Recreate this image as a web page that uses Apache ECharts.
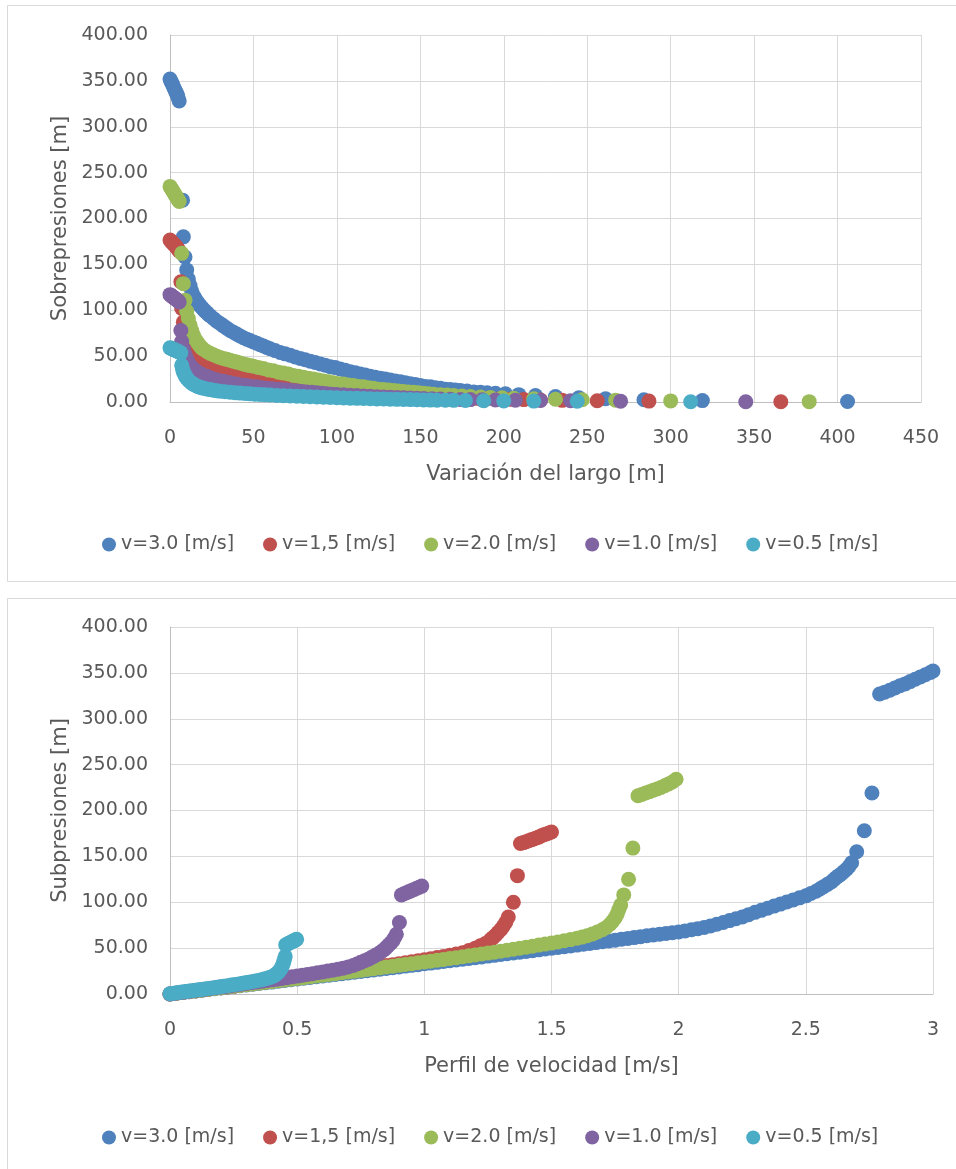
<!DOCTYPE html>
<html>
<head>
<meta charset="utf-8">
<script src="https://cdn.jsdelivr.net/npm/echarts@6/dist/echarts.min.js"></script>
<style>
  html, body { margin: 0; padding: 0; background: #ffffff; }
  #chart { width: 956px; height: 1169px; }
</style>
</head>
<body>
<div id="chart"></div>
<script>
// ---------- DATA ----------
const seriesNames = ['v=3.0 [m/s]', 'v=1,5 [m/s]', 'v=2.0 [m/s]', 'v=1.0 [m/s]', 'v=0.5 [m/s]'];
const seriesColors = ['#4F81BD', '#C0504D', '#9BBB59', '#8064A2', '#4BACC6'];

// Chart 1: [Variación del largo (m), Sobrepresiones (m)]
const sobreV30 = [[0,352],[0.5,350],[1,348],[1.5,346],[2,344],[2.5,342],[3,340],[3.5,338],[4,336],[4.5,334],[5,331],[5.5,328],[7.5,220],[8,180],[9,158],[10,144],
[11,134],[12,127],[13,121],[14,116],[15,113],[16,110],[17,107.5],[18,105],[19,103],[20,101],[21,99],[22,97.5],[23,95.5],[24,94],[26,91],[28,88],[30,85.5],[32,83],[34,80.5],[36,78],[38,76],[40,74],[42,72],[44,70],[46,68.5],[48,67],[50,65.5],[52,64],[54,62.5],[56,61],[58,59.5],[60,58],[63,56],[66,54],[69,52.5],[72,51],[75,49],[78,47.5],[81,46],[84,44.5],[87,43],[90,41.5],[93,40],[96,38.5],[99,37.5],[102,36],[105,34.5],[108,33],[111,32],[114,30.5],[117,29.5],[120,28],[123,27],[126,26],[129,25],[132,24],[135,23],[138,22],[141,21],[144,20],[147,19],[150,18],[153,17],[156,16.5],[159,15.5],[162,15],[165,14],[168,13.5],[171,13],[174,12.5],[178,12],[182,11],[186,10.5],[190,10],[195,9.5],[201,9],[209,8],[219,7],[231,6],[245,4.5],[261,3.5],[284,2.5],[319,1.5],[406,0.5]];
const sobreV15 = [[0,176.5],[0.5,175.5],[1,174.5],[1.5,173.5],[2,172.5],[2.5,171.5],[3,170.5],[3.5,169.5],[4,168.5],[4.5,167.5],[5,166],[5.5,164.5],[6.5,131],[7,102],[8,87],
[9,77],[10,70],[11,65],[12,61],[13,58],[14,55.5],[15,53],[16,51],[17,49.5],[18,48],[19,46.5],[20,45.5],[22,43.5],[24,41.5],[26,40],[28,38.5],[30,37],[32,36],[34,34.5],[36,33.5],[38,32.5],[40,31.5],[42,30.5],[44,29.5],[46,29],[48,28],[51,27],[54,26],[57,25],[60,24],[63,23],[66,22],[69,21.5],[72,20.5],[75,19.5],[78,19],[81,18],[84,17.5],[87,16.5],[90,16],[93,15.5],[96,15],[99,14],[102,13.5],[105,13],[108,12.5],[111,12],[114,11.5],[117,11],[120,10.5],[124,10],[128,9.5],[132,9],[136,8.5],[140,8],[144,7.5],[148,7],[152,6.5],[157,6],[162,5.5],[167,5],[172,4.7],[178,4.3],[184,4],[190,3.5],[197,3.2],[204,2.9],[212,2.6],[222,2.2],[235,1.8],[256,1.4],[287,1],[366,0.3]];
const sobreV20 = [[0,235],[0.5,233.5],[1,232],[1.5,230.5],[2,229],[2.5,227.5],[3,226],[3.5,224.5],[4,223],[4.5,221.5],[5,220],[5.5,218.5],[7,162],[8,129],[9,111],
[10,99],[11,91],[12,84],[13,78],[14,73],[15,69],[16,66],[17,63.5],[18,61],[19,59],[20,57.5],[22,55],[24,53],[26,51.5],[28,50],[30,48.5],[32,47.5],[34,46.5],[36,45.5],[38,44.5],[40,43.5],[42,42.5],[44,41.5],[46,40.5],[48,39.7],[50,39],[53,37.7],[56,36.5],[59,35],[62,34],[65,32.5],[68,31.5],[71,30.5],[74,29],[77,28],[80,27],[83,26],[86,25],[89,24],[92,23],[95,22],[98,21],[101,20],[104,19.5],[107,18.5],[110,18],[113,17],[116,16.5],[119,15.5],[122,15],[125,14],[128,13.5],[131,13],[134,12.5],[137,12],[140,11.5],[143,11],[146,10.5],[149,10],[152,9.5],[155,9],[158,8.5],[162,8],[166,7.5],[170,7],[175,6.5],[180,6],[186,5.5],[192,5],[199,4.5],[206,4],[218,3.5],[231,3],[247,2.5],[267,2],[300,1.2],[383,0.4]];
const sobreV10 = [[0,117],[0.5,116.3],[1,115.6],[1.5,114.9],[2,114.2],[2.5,113.5],[3,112.8],[3.5,112.1],[4,111.4],[4.5,110.7],[5,110],[5.5,109],[6.5,78],[7,66],
[8,58],[9,52],[10,47],[11,43],[12,40],[13,38],[14,36],[15,34.5],[16,33],[17,32],[18,31],[19,30],[20,29],[22,28],[24,26.5],[26,25],[28,24],[30,23],[32,22.5],[34,21.5],[36,21],[38,20],[40,19.5],[43,18.5],[46,18],[49,17],[52,16.5],[55,15.5],[58,15],[61,14.5],[64,14],[67,13.5],[70,13],[73,12.5],[76,12],[79,11.5],[82,11],[85,10.5],[88,10],[91,9.5],[94,9],[97,8.5],[100,8.2],[104,7.8],[108,7.4],[112,7],[116,6.6],[120,6.2],[124,5.8],[128,5.5],[132,5.2],[136,5],[140,4.7],[144,4.4],[148,4.1],[152,3.9],[157,3.6],[162,3.3],[168,3],[174,2.8],[180,2.6],[187,2.4],[195,2.2],[207,1.9],[222,1.6],[240,1.3],[270,0.9],[345,0.3]];
const sobreV05 = [[0,59],[0.5,58.6],[1,58.2],[1.5,57.8],[2,57.4],[2.5,57],[3,56.6],[3.5,56.2],[4,55.8],[4.5,55.4],[5,55],[5.5,54.5],[6,54],[6.5,53.5],
[7,40],[7.5,36],[8,33],[8.5,31],[9,29],[9.5,27.5],[10,26],[11,24],[12,22],[13,20.5],[14,19.5],[15,18.5],[16,17.5],[17,16.7],[18,16],[19,15.5],[20,15],[22,14.2],[24,13.5],[26,12.8],[28,12.3],[30,11.8],[33,11.2],[36,10.6],[39,10.1],[42,9.7],[45,9.3],[48,8.9],[51,8.5],[54,8.2],[57,7.9],[60,7.6],[64,7.2],[68,6.9],[72,6.6],[76,6.3],[80,6],[84,5.7],[88,5.4],[92,5.1],[96,4.9],[100,4.6],[104,4.4],[108,4.2],[112,4],[116,3.8],[120,3.6],[124,3.4],[128,3.2],[132,3],[136,2.9],[140,2.7],[144,2.6],[148,2.4],[152,2.3],[156,2.1],[160,2],[165,1.9],[170,1.8],[177,1.6],[188,1.4],[200,1.2],[218,1],[244,0.8],[312,0.3]];

// Chart 2: [Perfil de velocidad (m/s), Subpresiones (m)]
const subV30 = [[0,0],[0.025,0.8],[0.05,1.6],[0.075,2.4],[0.1,3.2],[0.125,4.1],[0.15,4.9],[0.175,5.7],[0.2,6.5],[0.225,7.3],[0.25,8.1],[0.275,9],[0.3,9.8],[0.325,10.6],[0.35,11.4],[0.375,12.2],[0.4,13],[0.425,13.9],[0.45,14.7],[0.475,15.5],[0.5,16.3],[0.525,17.2],[0.55,18],[0.575,18.8],[0.6,19.6],[0.625,20.5],[0.65,21.3],[0.675,22.1],[0.7,22.9],[0.725,23.8],[0.75,24.6],[0.775,25.4],[0.8,26.2],[0.825,27.1],[0.85,27.9],[0.875,28.7],[0.9,29.5],[0.925,30.4],[0.95,31.2],[0.975,32],[1,32.9],[1.025,33.7],[1.05,34.5],[1.075,35.4],[1.1,36.2],[1.125,37],[1.15,37.9],[1.175,38.7],[1.2,39.6],[1.225,40.4],[1.25,41.3],[1.275,42.1],[1.3,43],[1.325,43.8],[1.35,44.7],[1.375,45.5],[1.4,46.4],[1.425,47.2],[1.45,48.1],[1.475,49],[1.5,49.8],[1.525,50.7],[1.55,51.6],[1.575,52.4],[1.6,53.3],[1.625,54.2],[1.65,55.1],[1.675,56],[1.7,56.9],[1.725,57.8],[1.75,58.7],[1.775,59.6],[1.8,60.6],[1.825,61.5],[1.85,62.5],[1.875,63.5],[1.9,64.4],[1.925,65.2],[1.95,66],[1.975,66.8],[2,67.5],[2.025,68.8],[2.05,70],[2.075,71.2],[2.1,72.5],[2.125,74.2],[2.15,76],[2.175,78],[2.2,80],[2.225,82],[2.25,84],[2.275,86.5],[2.3,89],[2.325,91.2],[2.35,93.5],[2.375,95.8],[2.4,98],[2.425,100.2],[2.45,102.5],[2.475,104.8],[2.5,107],[2.52,109.5],[2.54,112],[2.555,114.5],[2.57,117],[2.585,119.5],[2.6,122],[2.61,124.5],[2.62,127],[2.63,129],[2.64,131],[2.65,133.5],[2.66,136],[2.67,139],[2.68,143],[2.7,155],[2.73,178],[2.76,219],
[2.79,327],[2.81,329],[2.83,331],[2.85,333.5],[2.87,336],[2.89,338],[2.91,340.5],[2.93,343],[2.95,345.5],[2.97,348],[2.99,350.5],[3.0,352]];
const subV15 = [[0,0],[0.025,0.85],[0.05,1.7],[0.075,2.6],[0.1,3.4],[0.125,4.3],[0.15,5.1],[0.175,6],[0.2,6.9],[0.225,7.7],[0.25,8.6],[0.275,9.5],[0.3,10.4],[0.325,11.3],[0.35,12.2],[0.375,13.1],[0.4,14],[0.425,14.9],[0.45,15.8],[0.475,16.7],[0.5,17.6],[0.525,18.5],[0.55,19.4],[0.575,20.4],[0.6,21.3],[0.625,22.3],[0.65,23.2],[0.675,24.2],[0.7,25.1],[0.725,26],[0.75,27],[0.775,28],[0.8,29],[0.825,30],[0.85,31],[0.875,32],[0.9,33.1],[0.925,34.1],[0.95,35.2],[0.975,36.3],[1,37.4],[1.025,38.5],[1.05,39.7],[1.075,40.9],[1.1,42.1],[1.125,43.5],[1.15,45],[1.175,47.3],[1.2,50],[1.22,52.5],[1.24,55],[1.26,59],[1.27,61.5],[1.28,64],[1.29,67],[1.3,70],[1.31,73.5],[1.32,78],[1.33,84],[1.35,100],[1.366,129],
[1.378,164],[1.39,165],[1.4,166],[1.41,167],[1.42,168],[1.43,169],[1.44,170],[1.45,171],[1.46,172.5],[1.47,173.5],[1.48,174.5],[1.49,175.5],[1.5,176.5]];
const subV20 = [[0,0],[0.025,0.85],[0.05,1.7],[0.075,2.5],[0.1,3.3],[0.125,4.2],[0.15,5],[0.175,5.9],[0.2,6.7],[0.225,7.6],[0.25,8.4],[0.275,9.3],[0.3,10.1],[0.325,11],[0.35,11.8],[0.375,12.7],[0.4,13.5],[0.425,14.4],[0.45,15.2],[0.475,16.1],[0.5,17],[0.525,17.8],[0.55,18.7],[0.575,19.6],[0.6,20.5],[0.625,21.3],[0.65,22.2],[0.675,23.1],[0.7,24],[0.725,24.9],[0.75,25.8],[0.775,26.7],[0.8,27.6],[0.825,28.5],[0.85,29.4],[0.875,30.3],[0.9,31.2],[0.925,32.1],[0.95,33],[0.975,34],[1,34.9],[1.025,35.8],[1.05,36.8],[1.075,37.7],[1.1,38.7],[1.125,39.6],[1.15,40.6],[1.175,41.6],[1.2,42.6],[1.225,43.6],[1.25,44.6],[1.275,45.6],[1.3,46.7],[1.325,47.7],[1.35,48.8],[1.375,49.9],[1.4,51],[1.425,52.1],[1.45,53.3],[1.475,54.4],[1.5,55.5],[1.525,56.7],[1.55,58],[1.575,59.3],[1.6,60.7],[1.62,62],[1.64,63.5],[1.66,65.3],[1.68,67.5],[1.7,70],[1.715,72.5],[1.73,76],[1.74,79],[1.75,83],[1.758,87],[1.765,92],[1.772,97],[1.784,108],[1.803,125],[1.82,159],
[1.84,216],[1.855,217.5],[1.87,219],[1.885,220.5],[1.9,222],[1.915,223.5],[1.93,225],[1.945,227],[1.96,229],[1.975,231],[1.99,234]];
const subV10 = [[0,0],[0.02,0.75],[0.04,1.5],[0.06,2.25],[0.08,3],[0.1,3.75],[0.12,4.5],[0.14,5.25],[0.16,6],[0.18,6.75],[0.2,7.5],[0.22,8.25],[0.24,9],[0.26,9.8],[0.28,10.6],[0.3,11.4],[0.32,12.2],[0.34,13],[0.36,13.8],[0.38,14.6],[0.4,15.4],[0.42,16.2],[0.44,17],[0.46,17.8],[0.48,18.7],[0.5,19.5],[0.52,20.4],[0.54,21.3],[0.56,22.2],[0.58,23.1],[0.6,24],[0.62,25],[0.64,26],[0.66,27.1],[0.68,28.2],[0.7,29.5],[0.72,31],[0.735,32.7],[0.75,34.5],[0.765,36.2],[0.78,38],[0.79,39.5],[0.8,41],[0.81,42.5],[0.82,44],[0.83,46],[0.84,48],[0.848,50],[0.855,52],[0.862,54],[0.87,56],[0.876,58],[0.882,61],[0.89,65],[0.902,78],
[0.91,108],[0.92,109.2],[0.93,110.4],[0.94,111.6],[0.95,112.8],[0.96,114],[0.97,115.2],[0.98,116.4],[0.99,117.6]];
const subV05 = [[0,0.3],[0.015,0.9],[0.03,1.5],[0.045,2.1],[0.06,2.6],[0.075,3.2],[0.09,3.7],[0.105,4.3],[0.12,4.8],[0.135,5.4],[0.15,6],[0.165,6.6],[0.18,7.2],[0.195,7.8],[0.21,8.4],[0.225,9],[0.24,9.7],[0.255,10.3],[0.27,11],[0.285,11.7],[0.3,12.4],[0.315,13.1],[0.33,13.9],[0.345,14.7],[0.36,15.6],[0.37,16.3],[0.38,17],[0.39,17.9],[0.4,18.8],[0.408,19.8],[0.415,21],[0.42,22.2],[0.425,23.5],[0.43,25.2],[0.435,27],[0.438,28.5],[0.441,30.5],[0.444,32.5],[0.447,35],[0.45,38],[0.453,41],
[0.455,53.5],[0.46,54.3],[0.465,55],[0.47,55.7],[0.475,56.4],[0.48,57.1],[0.485,57.8],[0.49,58.5],[0.495,59.2],[0.498,59.6]];

const sobreData = [sobreV30, sobreV15, sobreV20, sobreV10, sobreV05];
const subData = [subV30, subV15, subV20, subV10, subV05];

const axis1 = { xMin: 0, xMax: 450, xStep: 50, yMin: 0, yMax: 400, yStep: 50 };
const axis2 = { xMin: 0, xMax: 3, xStep: 0.5, yMin: 0, yMax: 400, yStep: 50 };
const titles = {
  x1: 'Variación del largo [m]', y1: 'Sobrepresiones [m]',
  x2: 'Perfil de velocidad [m/s]', y2: 'Subpresiones [m]'
};

// ---------- STYLE ----------
const FONT = 'DejaVu Sans';
const TXT = '#595959';
const GRIDC = '#d9d9d9';
const AXC = '#bfbfbf';
const MARK = 15;

function xAxisCfg(ax, name, gridIndex) {
  return {
    gridIndex, type: 'value', min: ax.xMin, max: ax.xMax, interval: ax.xStep,
    name, nameLocation: 'middle', nameGap: 62,
    nameTextStyle: { color: TXT, fontFamily: FONT, fontSize: 21 },
    axisLine: { show: true, lineStyle: { color: AXC, width: 1 } },
    axisTick: { show: false },
    axisLabel: { color: TXT, fontFamily: FONT, fontSize: 19, margin: 27 },
    splitLine: { show: true, lineStyle: { color: GRIDC, width: 1 } }
  };
}
function yAxisCfg(ax, name, gridIndex) {
  return {
    gridIndex, type: 'value', min: ax.yMin, max: ax.yMax, interval: ax.yStep,
    name, nameLocation: 'middle', nameGap: 98,
    nameTextStyle: { color: TXT, fontFamily: FONT, fontSize: 21 },
    axisLine: { show: true, lineStyle: { color: AXC, width: 1 } },
    axisTick: { show: false },
    axisLabel: { color: TXT, fontFamily: FONT, fontSize: 19, margin: 22,
                 formatter: v => v.toFixed(2) },
    splitLine: { show: true, lineStyle: { color: GRIDC, width: 1 } }
  };
}

const series = [];
sobreData.forEach((d, i) => series.push({
  name: seriesNames[i], type: 'scatter', xAxisIndex: 0, yAxisIndex: 0,
  data: d, symbolSize: MARK, itemStyle: { color: seriesColors[i], opacity: 1 },
  animation: false
}));
subData.forEach((d, i) => series.push({
  name: seriesNames[i], type: 'scatter', xAxisIndex: 1, yAxisIndex: 1,
  data: d, symbolSize: MARK, itemStyle: { color: seriesColors[i], opacity: 1 },
  animation: false
}));

function legendCfg(top) {
  return {
    data: seriesNames, top, left: 97, icon: 'circle',
    itemWidth: 14, itemHeight: 14, itemGap: 29,
    textStyle: { color: TXT, fontFamily: FONT, fontSize: 19 },
    selectedMode: false
  };
}

const chart = echarts.init(document.getElementById('chart'), null, { renderer: 'canvas' });
chart.setOption({
  backgroundColor: '#ffffff',
  animation: false,
  textStyle: { fontFamily: FONT },
  graphic: [
    { type: 'rect', shape: { x: 7.5, y: 5.5, width: 1000, height: 576 }, style: { fill: 'none', stroke: GRIDC, lineWidth: 1 }, silent: true },
    { type: 'rect', shape: { x: 7.5, y: 598.5, width: 1000, height: 620 }, style: { fill: 'none', stroke: GRIDC, lineWidth: 1 }, silent: true }
  ],
  grid: [
    { left: 170, top: 35, width: 751, height: 367 },
    { left: 170, top: 627, width: 763, height: 367 }
  ],
  xAxis: [xAxisCfg(axis1, titles.x1, 0), xAxisCfg(axis2, titles.x2, 1)],
  yAxis: [yAxisCfg(axis1, titles.y1, 0), yAxisCfg(axis2, titles.y2, 1)],
  legend: [legendCfg(530), legendCfg(1123)],
  series
});
</script>
</body>
</html>
